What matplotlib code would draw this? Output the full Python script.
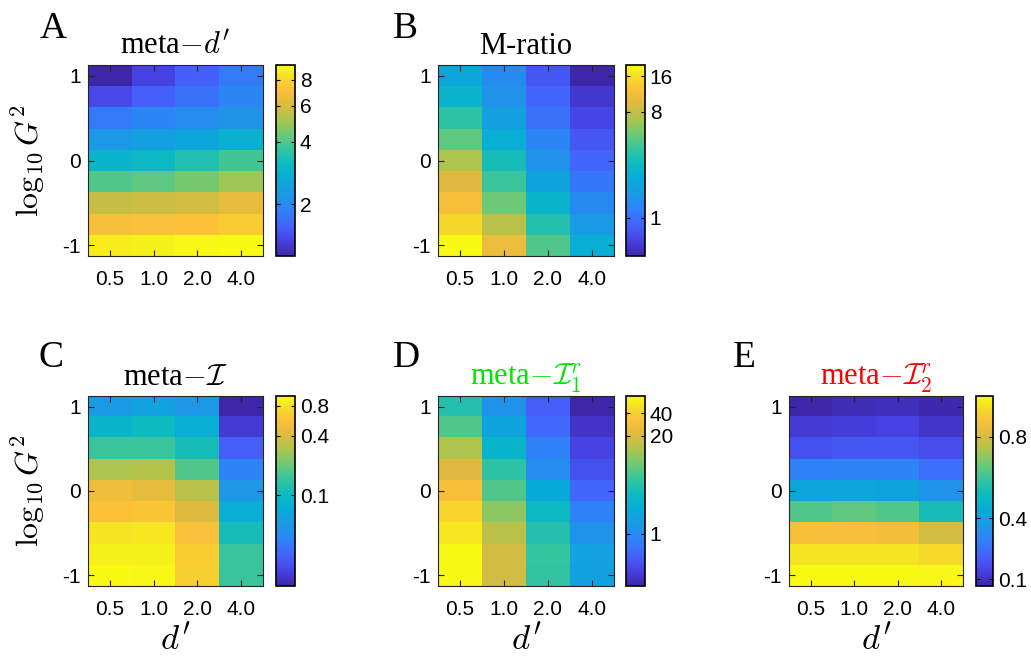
import numpy as np
import matplotlib
matplotlib.use("Agg")
import matplotlib.pyplot as plt
from matplotlib.colors import LinearSegmentedColormap, LogNorm, Normalize

plt.rcParams['font.family'] = ['Liberation Serif', 'DejaVu Serif']
plt.rcParams['mathtext.fontset'] = 'cm'

# axes of every panel
dprime = ['0.5', '1.0', '2.0', '4.0']
logG2 = [1, 0.75, 0.5, 0.25, 0, -0.25, -0.5, -0.75, -1]   # rows, top to bottom

# A: meta-d'
meta_d = [[1.12, 1.33, 1.55, 1.79],
          [1.39, 1.55, 1.72, 1.91],
          [1.79, 1.91, 2.04, 2.13],
          [2.22, 2.37, 2.52, 2.80],
          [2.93, 3.12, 3.40, 3.86],
          [4.03, 4.20, 4.48, 4.98],
          [5.66, 5.78, 5.91, 6.44],
          [7.01, 7.16, 7.31, 7.63],
          [8.85, 9.05, 9.25, 9.45]]

# B: M-ratio
m_ratio = [[1.96, 1.30, 0.77, 0.47],
           [2.55, 1.45, 0.89, 0.57],
           [3.70, 1.75, 1.00, 0.66],
           [4.81, 2.28, 1.21, 0.77],
           [7.00, 3.07, 1.45, 0.89],
           [9.44, 3.99, 1.89, 1.04],
           [11.8, 5.19, 2.55, 1.30],
           [15.3, 7.54, 3.44, 1.63],
           [20.0, 10.6, 4.47, 2.28]]

# C: meta-I
meta_I = [[0.0525, 0.060, 0.050, 0.0123],
          [0.089, 0.102, 0.078, 0.016],
          [0.151, 0.151, 0.111, 0.0238],
          [0.292, 0.305, 0.172, 0.0369],
          [0.495, 0.453, 0.319, 0.050],
          [0.59, 0.617, 0.415, 0.078],
          [0.80, 0.839, 0.565, 0.111],
          [0.916, 0.916, 0.644, 0.151],
          [1.0, 0.957, 0.673, 0.151]]

# D: meta-I1r
meta_I1r = [[4.39, 1.15, 0.479, 0.20],
            [6.61, 1.73, 0.57, 0.252],
            [13.3, 2.75, 0.81, 0.318],
            [21.2, 4.93, 1.02, 0.40],
            [30.1, 6.61, 2.06, 0.54],
            [42.7, 10.5, 3.28, 0.81],
            [53.9, 14.9, 4.39, 1.15],
            [68.0, 18.9, 5.22, 1.63],
            [66.0, 18.5, 5.10, 1.60]]

# E: meta-I2r
meta_I2r = [[0.067, 0.086, 0.095, 0.076],
            [0.123, 0.132, 0.142, 0.114],
            [0.179, 0.188, 0.188, 0.170],
            [0.291, 0.300, 0.300, 0.244],
            [0.422, 0.422, 0.412, 0.347],
            [0.627, 0.645, 0.627, 0.534],
            [0.869, 0.869, 0.860, 0.795],
            [0.953, 0.953, 0.953, 0.935],
            [1.0, 1.0, 1.0, 0.99]]

# parula-like colormap
parula = LinearSegmentedColormap.from_list('parula', [
    (0.00, (0.2422, 0.1504, 0.6603)),
    (0.08, (0.2770, 0.2600, 0.8900)),
    (0.16, (0.2700, 0.3900, 0.9900)),
    (0.24, (0.1800, 0.5100, 0.9700)),
    (0.32, (0.1100, 0.6000, 0.9000)),
    (0.40, (0.0300, 0.6700, 0.8500)),
    (0.48, (0.0500, 0.7300, 0.7600)),
    (0.56, (0.2000, 0.7700, 0.6300)),
    (0.64, (0.4300, 0.7900, 0.4600)),
    (0.72, (0.6800, 0.7700, 0.3000)),
    (0.80, (0.8800, 0.7300, 0.2500)),
    (0.88, (0.9900, 0.7600, 0.2200)),
    (0.94, (0.9600, 0.8700, 0.1600)),
    (1.00, (0.9769, 0.9839, 0.0805))], N=256)

W, H = 1031, 660
fig = plt.figure(figsize=(W/100, H/100), dpi=100)

def px_axes(x0, x1, y0, y1):
    return fig.add_axes([x0/W, 1-y1/H, (x1-x0)/W, (y1-y0)/H])

tickfont = {'family': 'Liberation Sans', 'size': 15}

def panel(data, box, cbox, title, letter, lpos, norm, cticks, clabels,
          tcolor='black', ylab=False, xlab=False):
    ax = px_axes(*box)
    data = np.array(data)
    im = ax.imshow(data, cmap=parula, norm=norm, aspect='auto',
                   extent=[0.5, len(dprime)+0.5, logG2[-1]-0.125, logG2[0]+0.125],
                   interpolation='nearest')
    ax.set_xticks(range(1, len(dprime)+1))
    ax.set_xticklabels(dprime, fontdict=tickfont)
    ax.set_yticks([-1, 0, 1])
    ax.set_yticklabels(['-1', '0', '1'], fontdict=tickfont)
    ax.tick_params(direction='in', length=4, width=0.8, top=True, right=True,
                   color='#222222')
    ax.tick_params(axis='x', pad=10)
    ax.tick_params(axis='y', pad=5)
    for s in ax.spines.values():
        s.set_linewidth(0.8)
        s.set_color('#262626')
    ax.set_title(title, fontsize=22, color=tcolor, pad=8)
    if ylab:
        ax.set_ylabel(r'$\log_{10}G^2$', fontsize=23, labelpad=11)
    if xlab:
        ax.set_xlabel(r"$d'$", fontsize=25, labelpad=4)
    cax = px_axes(*cbox)
    cb = fig.colorbar(im, cax=cax)
    cb.minorticks_off()
    cb.set_ticks(cticks)
    cb.set_ticklabels(clabels)
    for lab in cax.get_yticklabels():
        lab.set_fontfamily('Liberation Sans')
        lab.set_fontsize(15)
    cax.tick_params(direction='in', length=3, left=True, right=True, width=0.8)
    cb.outline.set_linewidth(1.2)
    fig.text(lpos[0]/W, 1-lpos[1]/H, letter, fontsize=27, va='baseline', ha='left')

panel(meta_d, (88, 263, 65, 256), (276, 295, 65, 256), r"meta$-d'$", 'A', (40, 38),
      LogNorm(), [2, 4, 6, 8], ['2', '4', '6', '8'], ylab=True)
panel(m_ratio, (438, 614, 65, 256), (626, 645, 65, 256), 'M-ratio', 'B', (393, 38),
      LogNorm(), [1, 8, 16], ['1', '8', '16'])
panel(meta_I, (88, 263, 396, 586), (276, 295, 396, 586), r"meta$-\mathcal{I}$", 'C', (38, 367),
      LogNorm(), [0.1, 0.4, 0.8], ['0.1', '0.4', '0.8'], ylab=True, xlab=True)
panel(meta_I1r, (438, 614, 396, 586), (626, 645, 396, 586), r"meta$-\mathcal{I}_1^r$", 'D', (393, 367),
      LogNorm(), [1, 20, 40], ['1', '20', '40'], tcolor='#00e600', xlab=True)
panel(meta_I2r, (789, 963, 396, 586), (976, 993, 396, 586), r"meta$-\mathcal{I}_2^r$", 'E', (733, 367),
      Normalize(), [0.1, 0.4, 0.8], ['0.1', '0.4', '0.8'], tcolor='red', xlab=True)

fig.savefig('out.png', dpi=100)
